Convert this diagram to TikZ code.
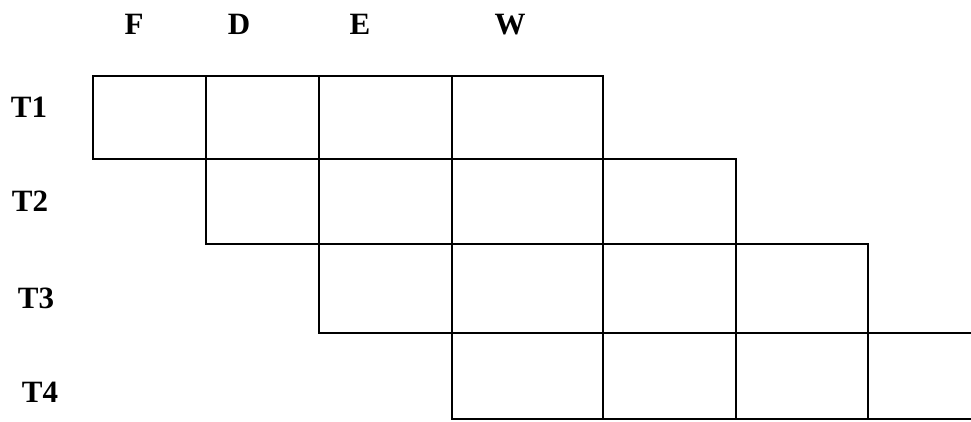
\documentclass[tikz,border=0pt]{standalone}
\usepackage{fontspec}
\setmainfont{Liberation Serif}
\begin{document}
\begin{tikzpicture}[x=1pt,y=-1pt,
  lbl/.style={font=\fontsize{31}{31}\selectfont\bfseries, anchor=base, inner sep=0pt},
  cell/.style={line width=2pt, inner sep=0pt, outer sep=0pt, anchor=north west},
  cellbox/.style={cell, draw}]
\useasboundingbox (0,0) rectangle (971,421);
% headers
\node[lbl] (hF) at (134,34) {F};
\node[lbl] (hD) at (239,34) {D};
\node[lbl] (hE) at (360,34) {E};
\node[lbl] (hW) at (510,34) {W};
% row labels
\node[lbl] (t1) at (29,117) {T1};
\node[lbl] (t2) at (30,211) {T2};
\node[lbl] (t3) at (36,308) {T3};
\node[lbl] (t4) at (40,402) {T4};
% row 1
\node[cellbox, minimum width=113pt, minimum height=83pt] (c11) at (93,76) {};
\node[cellbox, minimum width=113pt, minimum height=83pt] (c12) at (206,76) {};
\node[cellbox, minimum width=133pt, minimum height=83pt] (c13) at (319,76) {};
\node[cellbox, minimum width=151pt, minimum height=83pt] (c14) at (452,76) {};
% row 2
\node[cellbox, minimum width=113pt, minimum height=85pt] (c21) at (206,159) {};
\node[cellbox, minimum width=133pt, minimum height=85pt] (c22) at (319,159) {};
\node[cellbox, minimum width=151pt, minimum height=85pt] (c23) at (452,159) {};
\node[cellbox, minimum width=133pt, minimum height=85pt] (c24) at (603,159) {};
% row 3
\node[cellbox, minimum width=133pt, minimum height=89pt] (c31) at (319,244) {};
\node[cellbox, minimum width=151pt, minimum height=89pt] (c32) at (452,244) {};
\node[cellbox, minimum width=133pt, minimum height=89pt] (c33) at (603,244) {};
\node[cellbox, minimum width=132pt, minimum height=89pt] (c34) at (736,244) {};
% row 4
\node[cellbox, minimum width=151pt, minimum height=86pt] (c41) at (452,333) {};
\node[cellbox, minimum width=133pt, minimum height=86pt] (c42) at (603,333) {};
\node[cellbox, minimum width=132pt, minimum height=86pt] (c43) at (736,333) {};
\node[cell, minimum width=103pt, minimum height=86pt] (c44) at (868,333) {};
\draw[line width=2pt] (c44.north west) -- (c44.north east);
\draw[line width=2pt] (c44.south west) -- (c44.south east);
\end{tikzpicture}
\end{document}
